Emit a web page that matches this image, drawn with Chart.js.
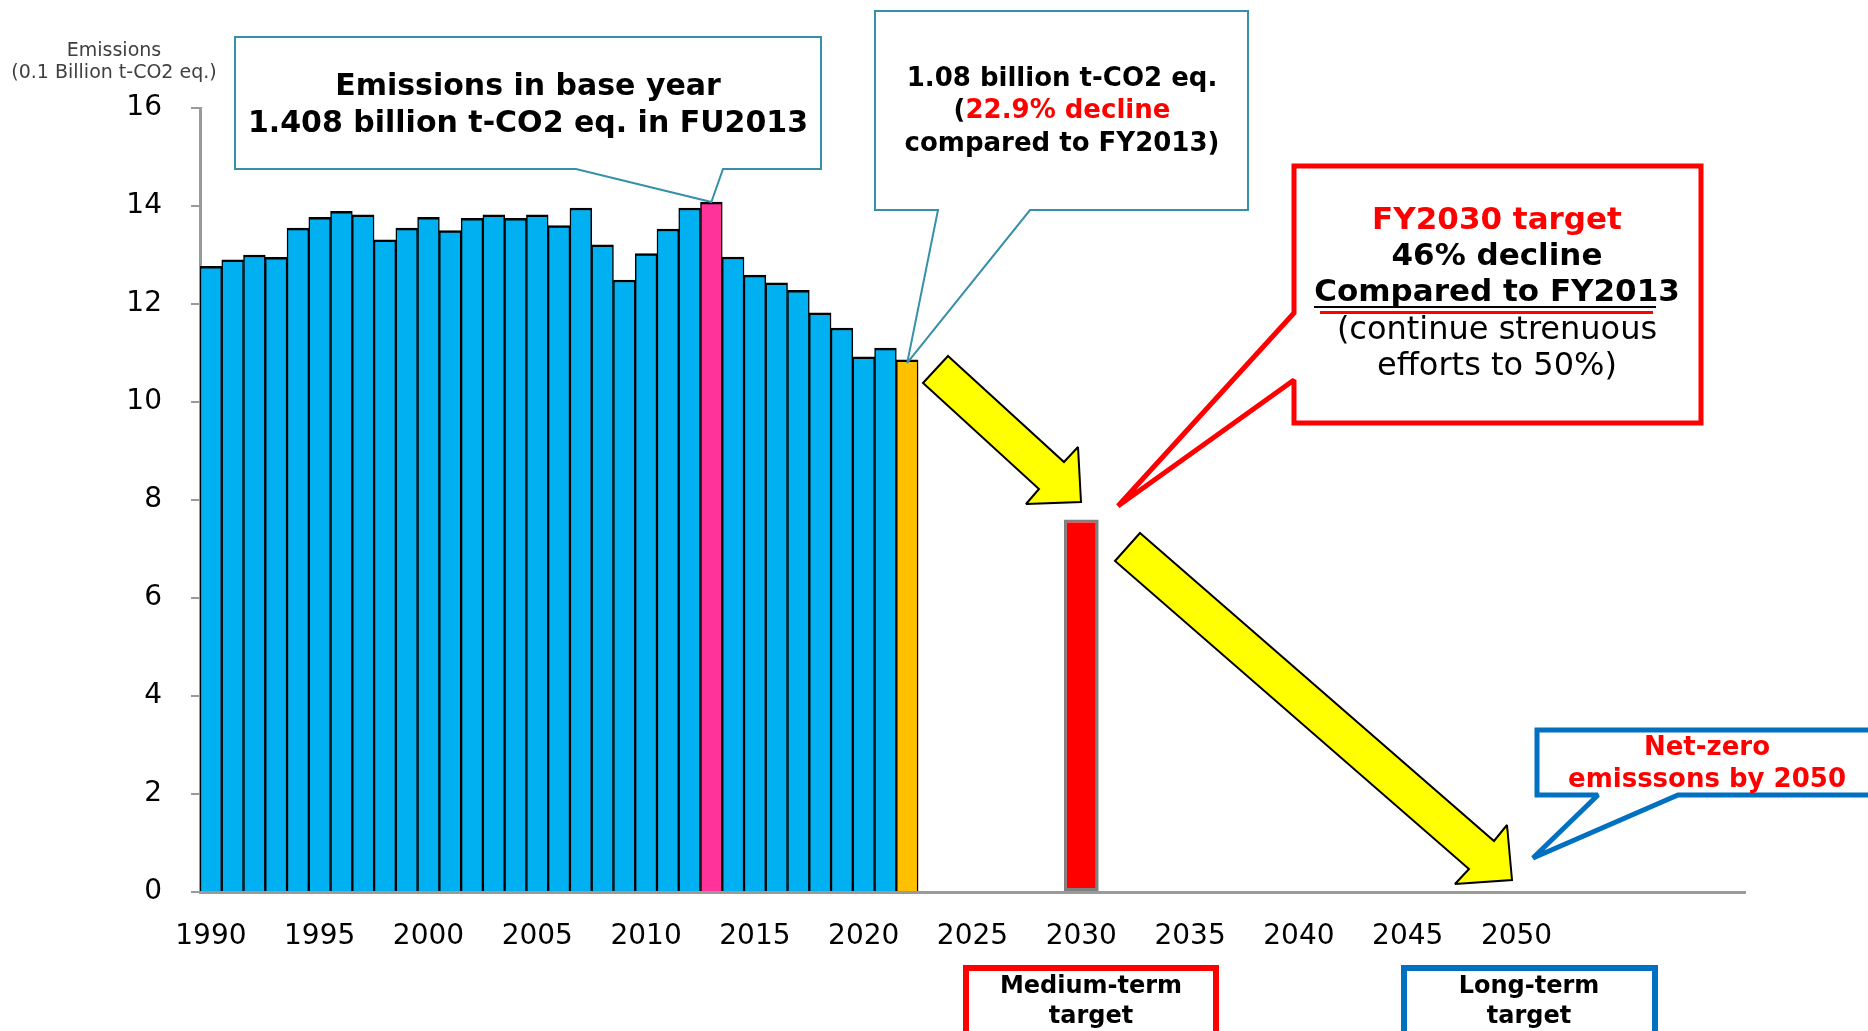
<!DOCTYPE html>
<html>
<head>
<meta charset="utf-8">
<title>GHG emissions and targets</title>
<script src="https://cdn.jsdelivr.net/npm/chart.js@4.4.1/dist/chart.umd.min.js"></script>
<style>
  html, body { margin: 0; padding: 0; background: #fff; }
  #wrap { width: 1868px; height: 1031px; position: relative; }
</style>
</head>
<body>
<div id="wrap"><canvas id="chart"></canvas></div>
<script>
// category range of the x axis (fiscal years)
const firstYear = 1990;
const lastYear = 2060;
const tickLabels = ['1990', '1995', '2000', '2005', '2010', '2015', '2020', '2025', '2030', '2035', '2040', '2045', '2050'];

// emissions, 0.1 billion t-CO2 eq., FY1990 - FY2022
const emissions = [
    12.77, 12.90, 13.00, 12.95, 13.55, 13.77, 13.89, 13.82, 13.31, 13.55,
    13.77, 13.50, 13.75, 13.82, 13.75, 13.82, 13.60, 13.96, 13.21, 12.49,
    13.03, 13.53, 13.96, 14.08, 12.96, 12.59, 12.43, 12.28, 11.82, 11.51,
    10.92, 11.10, 10.86
];
const baseYear = '2013';
const latestYear = '2022';

// FY2030 target
const targetYears = ['2030'];
const targetValues = [7.6];

const yMin = 0, yMax = 16, yStep = 2;

const years = [];
for (let y = firstYear; y <= lastYear; y++) years.push(String(y));
const emissionYears = years.slice(0, emissions.length);

const barColors = emissionYears.map(y => y === baseYear ? '#FF3399' : (y === latestYear ? '#FFC000' : '#00B0F0'));

Chart.defaults.font.family = '"DejaVu Sans", Verdana, sans-serif';
Chart.defaults.color = '#000';

function font(size, bold) {
    return (bold ? 'bold ' : '') + size + 'px "DejaVu Sans", Verdana, sans-serif';
}

// one centred line made of coloured pieces
function richLine(ctx, parts, cx, cy) {
    let total = 0;
    parts.forEach(p => { total += ctx.measureText(p[0]).width; });
    let x = cx - total / 2;
    ctx.textAlign = 'left';
    ctx.textBaseline = 'middle';
    parts.forEach(p => {
        ctx.fillStyle = p[1];
        ctx.fillText(p[0], x, cy);
        x += ctx.measureText(p[0]).width;
    });
}

function shape(ctx, pts, fill, stroke, lw) {
    ctx.beginPath();
    ctx.moveTo(pts[0][0], pts[0][1]);
    for (let i = 1; i < pts.length; i++) ctx.lineTo(pts[i][0], pts[i][1]);
    ctx.closePath();
    if (fill) { ctx.fillStyle = fill; ctx.fill(); }
    if (stroke) {
        ctx.strokeStyle = stroke;
        ctx.lineWidth = lw;
        ctx.lineJoin = 'miter';
        ctx.miterLimit = 2;
        ctx.stroke();
    }
}

const annotations = {
    id: 'annotations',
    afterDraw(chart) {
        const ctx = chart.ctx;
        const xs = chart.scales.x, ys = chart.scales.y;
        const teal = '#3590A8';
        ctx.save();

        // axis title
        ctx.font = font(19, false);
        ctx.fillStyle = '#404040';
        ctx.textAlign = 'center';
        ctx.textBaseline = 'middle';
        ctx.fillText('Emissions', 114, 51);
        ctx.fillText('(0.1 Billion t-CO2 eq.)', 114, 73);

        // callout: base year
        const bi = emissionYears.indexOf(baseYear);
        const bx = xs.getPixelForValue(bi), by = ys.getPixelForValue(emissions[bi]);
        shape(ctx, [[235, 37], [821, 37], [821, 169], [723, 169], [bx, by], [576, 169], [235, 169]], '#fff', teal, 2);
        ctx.font = font(30, true);
        richLine(ctx, [['Emissions in base year', '#000']], 528, 87);
        richLine(ctx, [['1.408 billion t-CO2 eq. in FU2013', '#000']], 528, 124);

        // callout: latest year
        const li = emissionYears.indexOf(latestYear);
        const lx = xs.getPixelForValue(li), ly = ys.getPixelForValue(emissions[li]) + 3;
        shape(ctx, [[875, 11], [1248, 11], [1248, 210], [1030, 210], [lx, ly], [938, 210], [875, 210]], '#fff', teal, 2);
        ctx.font = font(26, true);
        richLine(ctx, [['1.08 billion t-CO2 eq.', '#000']], 1062, 79);
        richLine(ctx, [['(', '#000'], ['22.9% decline', '#FF0000']], 1062, 111);
        richLine(ctx, [['compared to FY2013)', '#000']], 1062, 144);

        // callout: FY2030 target
        shape(ctx, [[1294, 166], [1701, 166], [1701, 423], [1294, 423], [1294, 380], [1118, 506], [1294, 313]], '#fff', '#FF0000', 5);
        ctx.font = font(31, true);
        richLine(ctx, [['FY2030 target', '#FF0000']], 1497, 221);
        richLine(ctx, [['46% decline', '#000']], 1497, 257);
        richLine(ctx, [['Compared to FY2013', '#000']], 1497, 293);
        ctx.fillStyle = '#000';
        ctx.fillRect(1314, 306, 342, 2);
        ctx.fillStyle = '#FF0000';
        ctx.fillRect(1320, 311, 333, 3);
        ctx.font = font(32, false);
        richLine(ctx, [['(continue strenuous', '#000']], 1497, 331);
        richLine(ctx, [['efforts to 50%)', '#000']], 1497, 367);

        // callout: net-zero
        shape(ctx, [[1537, 730], [1890, 730], [1890, 795], [1678, 795], [1533, 858], [1598, 795], [1537, 795]], '#fff', '#0070C0', 5);
        ctx.font = font(26, true);
        richLine(ctx, [['Net-zero', '#FF0000']], 1707, 748);
        richLine(ctx, [['emisssons by 2050', '#FF0000']], 1707, 780);

        // arrows
        shape(ctx, [[948, 356], [1064, 462], [1078, 447], [1081, 502], [1026, 504], [1039, 489], [923, 383]], '#FFFF00', '#000', 2);
        shape(ctx, [[1140, 533], [1494, 841], [1507, 825], [1512, 880], [1455, 884], [1469, 869], [1115, 561]], '#FFFF00', '#000', 2);

        // target boxes under the axis
        shape(ctx, [[966, 968], [1216, 968], [1216, 1045], [966, 1045]], '#fff', '#FF0000', 6);
        shape(ctx, [[1404, 968], [1655, 968], [1655, 1045], [1404, 1045]], '#fff', '#0070C0', 6);
        ctx.font = font(24, true);
        richLine(ctx, [['Medium-term', '#000']], 1091, 987);
        richLine(ctx, [['target', '#000']], 1091, 1017);
        richLine(ctx, [['Long-term', '#000']], 1529, 987);
        richLine(ctx, [['target', '#000']], 1529, 1017);

        ctx.restore();
    }
};

const ctx = document.getElementById('chart').getContext('2d');
new Chart(ctx, {
    type: 'bar',
    data: {
        labels: years,
        datasets: [{
            label: 'Emissions',
            data: emissions,
            backgroundColor: barColors,
            borderColor: '#000',
            borderWidth: { top: 2.5, left: 1.5, right: 1.5, bottom: 0 },
            borderSkipped: false,
            barPercentage: 1,
            categoryPercentage: 1,
            grouped: false
        }, {
            label: 'FY2030 target',
            data: targetYears.map((y, i) => ({ x: y, y: targetValues[i] })),
            backgroundColor: '#FF0000',
            borderColor: '#808080',
            borderWidth: 3,
            borderSkipped: false,
            barPercentage: 1.6,
            categoryPercentage: 1,
            grouped: false
        }]
    },
    options: {
        responsive: true,
        maintainAspectRatio: false,
        animation: false,
        layout: { padding: { top: 108, right: 123, left: 0, bottom: 0 } },
        plugins: {
            legend: { display: false },
            tooltip: { enabled: false },
            title: { display: false }
        },
        scales: {
            x: {
                grid: { display: false },
                border: { display: true, color: '#9A9A9A', width: 3 },
                ticks: {
                    autoSkip: false,
                    maxRotation: 0,
                    minRotation: 0,
                    padding: 20,
                    font: { size: 28 },
                    color: '#000',
                    callback: function (value) {
                        const lab = this.getLabelForValue(value);
                        return tickLabels.includes(lab) ? lab : '';
                    }
                },
                afterFit: function (scale) { scale.height = 139; }
            },
            y: {
                min: yMin,
                max: yMax,
                grid: { display: true, drawOnChartArea: false, drawTicks: true, tickLength: 9, color: '#9A9A9A', lineWidth: 2 },
                border: { display: true, color: '#9A9A9A', width: 3 },
                ticks: { stepSize: yStep, padding: 29, font: { size: 28 }, color: '#000' },
                afterFit: function (scale) { scale.width = 200; }
            }
        }
    },
    plugins: [annotations]
});
</script>
</body>
</html>
